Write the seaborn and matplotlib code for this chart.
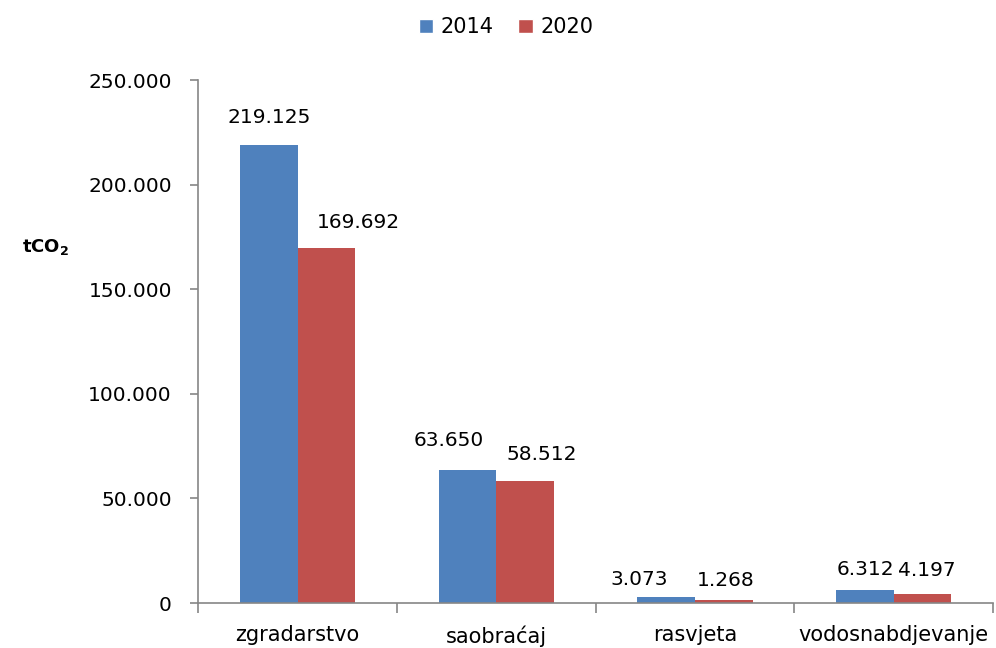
import seaborn as sns
import matplotlib.pyplot as plt
import pandas as pd
from matplotlib.ticker import FuncFormatter, FixedLocator
from matplotlib.patches import Patch

categories = ['zgradarstvo', 'saobraćaj', 'rasvjeta', 'vodosnabdjevanje']
years = ['2014', '2020']
values_2014 = [219125, 63650, 3073, 6312]
values_2020 = [169692, 58512, 1268, 4197]
y_ticks = [0, 50000, 100000, 150000, 200000, 250000]

# label nudges (pixels) as placed in the original chart
label_offsets = {
    '2014': [(0, 27), (-19, 29), (-27, 17), (1, 20)],
    '2020': [(32, 26), (17, 26), (2, 20), (4, 24)],
}

colors = {'2014': '#4F81BD', '2020': '#C0504D'}


def fmt(v, pos=None):
    return f'{int(v):,}'.replace(',', '.')


df = pd.DataFrame({
    'kategorija': categories * 2,
    'godina': ['2014'] * 4 + ['2020'] * 4,
    'tCO2': values_2014 + values_2020,
})

sns.set_style('white')
plt.rcParams['font.family'] = ['DejaVu Sans']
plt.rcParams['text.color'] = 'black'

fig = plt.figure(figsize=(9.96, 6.48), dpi=100)
ax = fig.add_axes([0.199, 0.0694, 0.798, 0.807])

sns.barplot(data=df, x='kategorija', y='tCO2', hue='godina',
            palette=colors, width=0.58, gap=0, saturation=1,
            linewidth=0, edgecolor='none', ax=ax, legend=False)

ax.set_ylim(0, 250000)
ax.set_xlim(-0.5, 3.5)
ax.set_yticks(y_ticks)
ax.yaxis.set_major_formatter(FuncFormatter(fmt))
ax.set_xlabel('')
ax.set_ylabel('')

for s in ['top', 'right']:
    ax.spines[s].set_visible(False)
for s in ['left', 'bottom']:
    ax.spines[s].set_color('#868686')
    ax.spines[s].set_linewidth(1.2)

ax.tick_params(axis='y', which='major', length=6, width=1.2, color='#868686',
               labelcolor='black', labelsize=14.5, pad=13, left=True)
ax.tick_params(axis='x', which='major', length=0, labelsize=15, pad=16,
               labelcolor='black')
ax.xaxis.set_minor_locator(FixedLocator([-0.5, 0.5, 1.5, 2.5, 3.5]))
ax.tick_params(axis='x', which='minor', length=7, width=1.2, color='#868686',
               bottom=True)

for container, year in zip(ax.containers, years):
    for bar, (dx, dy) in zip(container, label_offsets[year]):
        h = bar.get_height()
        ax.annotate(fmt(h), (bar.get_x() + bar.get_width() / 2, h),
                    xytext=(dx, dy), textcoords='offset pixels',
                    ha='center', va='center', fontsize=14.5, color='black')

fig.text(0.046, 0.619, r'$\mathbf{tCO_2}$', fontsize=13, ha='center',
         va='center', color='black')

handles = [Patch(facecolor=colors[y], label=y) for y in years]
fig.legend(handles=handles, loc='center', bbox_to_anchor=(0.508, 0.958), ncol=2,
           frameon=False, fontsize=15, handlelength=0.7, handleheight=0.7,
           handletextpad=0.35, columnspacing=1.2)

fig.savefig('out.png', dpi=100)
